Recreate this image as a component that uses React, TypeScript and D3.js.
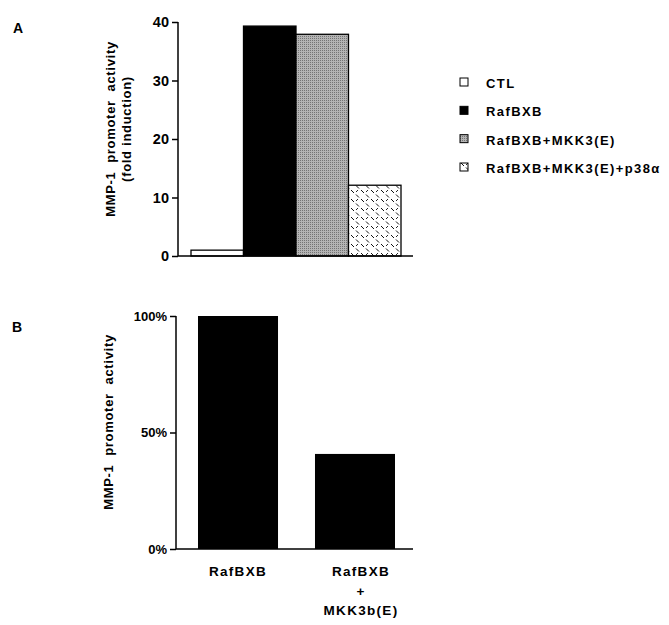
import { useEffect, useRef } from "react";
import * as d3 from "d3";

// panel A
const groupsA = ["CTL", "RafBXB", "RafBXB+MKK3(E)", "RafBXB+MKK3(E)+p38α"];
const valuesA = [1, 39.3, 37.9, 12.1];
const ticksA = [0, 10, 20, 30, 40];

// panel B
const groupsB = ["RafBXB", "RafBXB+MKK3b(E)"];
const valuesB = [100, 40.8];
const ticksB = [0, 50, 100];
const labelsB = [["RafBXB"], ["RafBXB", "+", "MKK3b(E)"]];

const FONT = "'Liberation Sans', Arial, Helvetica, sans-serif";

export default function App() {
  const ref = useRef<SVGSVGElement | null>(null);

  useEffect(() => {
    const svg = d3.select(ref.current);
    svg.selectAll("*").remove();

    const defs = svg.append("defs");
    // fine stipple for the gray bar
    const dots = defs.append("pattern").attr("id", "stip").attr("width", 2).attr("height", 2)
      .attr("patternUnits", "userSpaceOnUse");
    dots.append("rect").attr("width", 2).attr("height", 2).attr("fill", "#b4b4b4");
    dots.append("rect").attr("width", 1).attr("height", 1).attr("fill", "#747474");
    // short dashes for the p38 bar
    const hat = defs.append("pattern").attr("id", "hatch").attr("width", 10).attr("height", 9)
      .attr("patternUnits", "userSpaceOnUse");
    hat.append("rect").attr("width", 10).attr("height", 9).attr("fill", "#fff");
    hat.append("path").attr("d", "M1,1 L4,4 M6,5.5 L9,8.5").attr("stroke", "#111").attr("stroke-width", 1);
    hat.append("path").attr("d", "M6,3 L8,1").attr("stroke", "#111").attr("stroke-width", 0.9);

    const fills = ["#fff", "#000", "url(#stip)", "url(#hatch)"];

    // ---------- A ----------
    const xA = d3.scaleBand().domain(groupsA).range([191, 401]).padding(0);
    const yA = d3.scaleLinear().domain([0, 40]).range([256, 22]);

    svg.append("text").attr("x", 13).attr("y", 33).attr("font-size", 14).attr("font-weight", "bold").text("A");

    svg.selectAll("rect.a").data(groupsA).join("rect").attr("class", "a")
      .attr("x", (d) => xA(d)!).attr("y", (d, i) => yA(valuesA[i]))
      .attr("width", xA.bandwidth()).attr("height", (d, i) => yA(0) - yA(valuesA[i]))
      .attr("fill", (d, i) => fills[i]).attr("stroke", "#000").attr("stroke-width", 1.3);

    const axA = svg.append("g").attr("transform", "translate(178,0)")
      .call(d3.axisLeft(yA).tickValues(ticksA).tickSize(6).tickPadding(3));
    axA.select(".domain").remove();
    axA.selectAll("line").attr("stroke", "#000").attr("stroke-width", 1.5);
    axA.selectAll("text").attr("font-size", 14.5).attr("font-weight", "bold").attr("font-family", FONT);
    svg.append("line").attr("x1", 178).attr("x2", 178).attr("y1", yA(40)).attr("y2", yA(0))
      .attr("stroke", "#000").attr("stroke-width", 1.5);
    svg.append("line").attr("x1", 178).attr("x2", 413).attr("y1", yA(0)).attr("y2", yA(0))
      .attr("stroke", "#000").attr("stroke-width", 1.5);

    const labA = svg.append("text").attr("transform", "translate(115,129) rotate(-90)")
      .attr("text-anchor", "middle").attr("font-size", 13).attr("font-weight", "bold").attr("letter-spacing", 0.7);
    labA.append("tspan").attr("x", 0).attr("dy", 0).attr("xml:space", "preserve").text("MMP-1  promoter  activity");
    labA.append("tspan").attr("x", 0).attr("dy", 16).text("(fold induction)");

    // legend
    const leg = svg.append("g");
    const legY = d3.scalePoint().domain(groupsA).range([83, 168]);
    groupsA.forEach((g, i) => {
      const y = legY(g)!;
      leg.append("rect").attr("x", 460).attr("y", y - 5).attr("width", 8).attr("height", 8)
        .attr("fill", fills[i]).attr("stroke", "#000").attr("stroke-width", 1);
      leg.append("text").attr("x", 486).attr("y", y + 5).attr("font-size", 13).attr("font-weight", "bold")
        .attr("letter-spacing", 1.4).text(g);
    });

    // ---------- B ----------
    const xB = d3.scaleBand().domain(groupsB).range([176, 417]).paddingInner(0.316).paddingOuter(0.188);
    const yB = d3.scaleLinear().domain([0, 100]).range([549, 316]);

    svg.append("text").attr("x", 12).attr("y", 332).attr("font-size", 14).attr("font-weight", "bold").text("B");

    svg.selectAll("rect.b").data(groupsB).join("rect").attr("class", "b")
      .attr("x", (d) => xB(d)!).attr("y", (d, i) => yB(valuesB[i]))
      .attr("width", xB.bandwidth()).attr("height", (d, i) => yB(0) - yB(valuesB[i]))
      .attr("fill", "#000");

    const axB = svg.append("g").attr("transform", "translate(176,0)")
      .call(d3.axisLeft(yB).tickValues(ticksB).tickSize(6).tickPadding(3).tickFormat((d) => `${d}%`));
    axB.select(".domain").remove();
    axB.selectAll("line").attr("stroke", "#000").attr("stroke-width", 1.5);
    axB.selectAll("text").attr("font-size", 13).attr("font-weight", "bold").attr("font-family", FONT);
    svg.append("line").attr("x1", 176).attr("x2", 176).attr("y1", yB(100)).attr("y2", yB(0))
      .attr("stroke", "#000").attr("stroke-width", 1.5);
    svg.append("line").attr("x1", 176).attr("x2", 413).attr("y1", yB(0)).attr("y2", yB(0))
      .attr("stroke", "#000").attr("stroke-width", 1.5);

    svg.append("text").attr("transform", "translate(113,422) rotate(-90)")
      .attr("text-anchor", "middle").attr("font-size", 13).attr("font-weight", "bold").attr("letter-spacing", 0.7)
      .attr("xml:space", "preserve").text("MMP-1  promoter  activity");

    groupsB.forEach((g, i) => {
      const cx = xB(g)! + xB.bandwidth() / 2 + (i === 1 ? 6 : 0);
      const t = svg.append("text").attr("text-anchor", "middle").attr("font-size", 13.5)
        .attr("font-weight", "bold").attr("letter-spacing", 1.3);
      labelsB[i].forEach((line, j) => {
        t.append("tspan").attr("x", cx).attr("y", 576 + j * 19.5).text(line);
      });
    });
  }, []);

  return (
    <svg ref={ref} width={669} height={625}
      style={{ position: "absolute", left: 0, top: 0, background: "#fff", fontFamily: FONT }} />
  );
}
